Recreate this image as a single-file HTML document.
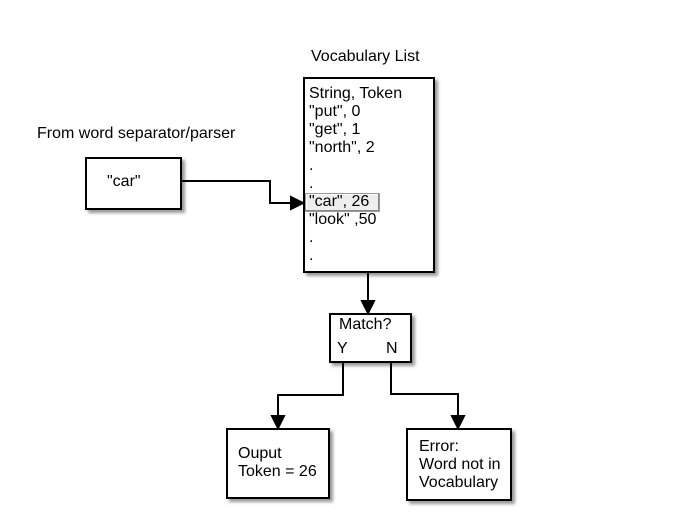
<!DOCTYPE html>
<html><head><meta charset="utf-8"><style>
body{margin:0;width:693px;height:528px;background:#fff;position:relative;font-family:"Liberation Sans",Arial,sans-serif;font-size:16px;color:#000;overflow:hidden}
.b{position:absolute;border:2px solid #000;background:#fff;box-shadow:3px 3px 3px #999;box-sizing:border-box}
.t{position:absolute;white-space:nowrap;line-height:18px}
</style></head><body>
<div class="t" style="left:311px;top:48px">Vocabulary List</div>
<div class="t" style="left:37px;top:125px">From word separator/parser</div>
<div class="b" style="left:85px;top:157px;width:97px;height:53px"></div>
<div class="t" style="left:107px;top:173px">"car"</div>
<div class="b" style="left:303px;top:77px;width:132px;height:196px"></div>
<div class="t" style="left:309px;top:85px">String, Token<br>"put", 0<br>"get", 1<br>"north", 2<br>.<br>.</div>
<div style="position:absolute;left:305px;top:193px;width:73px;height:17px;background:#eee;border:1px solid #999;box-shadow:inset -1px -1px 0 #888,inset 1px 1px 0 #fff"></div>
<div class="t" style="left:309px;top:193px">"car", 26<br>"look" ,50<br>.<br>.</div>
<div class="b" style="left:329px;top:313px;width:83px;height:50px"></div>
<div class="t" style="left:339px;top:316px">Match?</div>
<div class="t" style="left:337px;top:340px">Y</div>
<div class="t" style="left:386px;top:340px">N</div>
<div class="b" style="left:226px;top:428px;width:104px;height:71px"></div>
<div class="t" style="left:238px;top:445px">Ouput<br>Token = 26</div>
<div class="b" style="left:406px;top:428px;width:106px;height:73px"></div>
<div class="t" style="left:419px;top:438px">Error:<br>Word not in<br>Vocabulary</div>
<svg width="693" height="528" style="position:absolute;left:0;top:0" fill="none" stroke="#000" stroke-width="2">
<polyline points="182,181 270,181 270,203 292,203"/>
<polygon points="291,197 303,203 291,209" fill="#000"/>
<line x1="368" y1="273" x2="368" y2="302"/>
<polygon points="362,301 368,313 374,301" fill="#000"/>
<polyline points="343,363 343,395 278,395 278,417"/>
<polygon points="272,416 278,428 284,416" fill="#000"/>
<polyline points="391,363 391,394 458,394 458,417"/>
<polygon points="452,416 458,428 464,416" fill="#000"/>
</svg>
</body></html>
